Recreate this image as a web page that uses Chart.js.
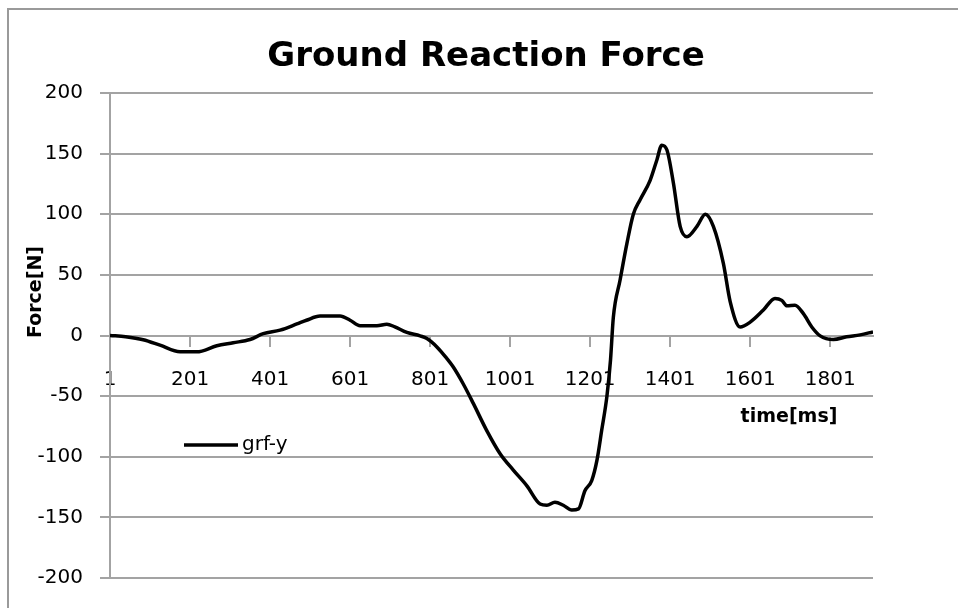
<!DOCTYPE html>
<html>
<head>
<meta charset="utf-8">
<title>Ground Reaction Force</title>
<script src="https://cdn.jsdelivr.net/npm/chart.js@4.4.1/dist/chart.umd.min.js"></script>
<style>
  html, body { margin: 0; padding: 0; background: #fff; }
  canvas { display: block; }
</style>
</head>
<body>
<canvas id="grfChart" width="958" height="608"></canvas>
<script>
const timeMs = [
    1, 40, 84, 126, 176, 218, 268, 309, 351, 384, 426, 468, 492, 526, 576,
    601, 626, 668, 693, 713, 743, 776, 793, 818, 843, 859, 884, 909, 942, 976,
    1009, 1043, 1076, 1093, 1113, 1134, 1155, 1172, 1188, 1205, 1218, 1230,
    1243, 1252, 1259, 1276, 1293, 1309, 1326, 1351, 1368, 1380, 1393, 1409,
    1426, 1443, 1468, 1489, 1509, 1534, 1551, 1576, 1601, 1634, 1663, 1680,
    1693, 1713, 1734, 1755, 1776, 1809, 1842, 1876, 1908
];
const forceN = [
    0, -1, -3.5, -8, -13.5, -13.5, -8.5, -6, -3.3, 1.5, 4.4, 9.5, 12.6, 16, 16,
    12.6, 8, 8, 9.3, 7.1, 2.5, -0.3, -2.5, -9.4, -19, -26, -40, -56, -78, -97.5,
    -111, -124, -139, -140, -137.5, -140, -144, -143, -128, -119.6, -103, -78,
    -50, -20, 15, 46, 76, 100, 112, 128, 145, 157, 153, 126,
    90, 81.5, 90, 100, 90, 59.5, 28, 7, 11, 21, 30.6, 29,
    24.5, 25, 18, 7, -0.3, -3.3, -1.1, 0.5, 3
];
const xTickLabels = [1, 201, 401, 601, 801, 1001, 1201, 1401, 1601, 1801];
const yTickLabels = [-200, -150, -100, -50, 0, 50, 100, 150, 200];

const chartTitle = 'Ground Reaction Force';
const xTitle = 'time[ms]';
const yTitle = 'Force[N]';
const seriesName = 'grf-y';

const FONT = '"DejaVu Sans", "Liberation Sans", sans-serif';
const GRID = '#a3a3a3';

// bordure, titre, titres d'axes et légende façon Excel
const excelDecor = {
    id: 'excelDecor',
    beforeDraw(chart) {
        const ctx = chart.ctx;
        ctx.save();
        ctx.fillStyle = '#fff';
        ctx.fillRect(0, 0, chart.width, chart.height);
        ctx.strokeStyle = '#9a9a9a';
        ctx.lineWidth = 2;
        ctx.strokeRect(8, 9, chart.width + 40, chart.height + 40);
        ctx.restore();
    },
    afterDraw(chart) {
        const ctx = chart.ctx;
        const ds = chart.data.datasets[0];
        ctx.save();
        ctx.fillStyle = '#000';

        // titre
        ctx.font = 'bold 34px ' + FONT;
        ctx.textAlign = 'center';
        ctx.textBaseline = 'alphabetic';
        ctx.fillText(chartTitle, 486, 66);

        // titre axe x (dans la zone de tracé)
        ctx.font = 'bold 19px ' + FONT;
        ctx.textBaseline = 'middle';
        ctx.fillText(xTitle, 789, 417);

        // titre axe y (vertical)
        ctx.save();
        ctx.translate(36, 292);
        ctx.rotate(-Math.PI / 2);
        ctx.fillText(yTitle, 0, 0);
        ctx.restore();

        // légende
        ctx.strokeStyle = ds.borderColor;
        ctx.lineWidth = ds.borderWidth;
        ctx.beginPath();
        ctx.moveTo(184, 445);
        ctx.lineTo(238, 445);
        ctx.stroke();
        ctx.font = '20px ' + FONT;
        ctx.textAlign = 'left';
        ctx.fillText(ds.label, 242, 445);

        ctx.restore();
    }
};

new Chart(document.getElementById('grfChart'), {
    type: 'line',
    data: {
        datasets: [{
            label: seriesName,
            data: timeMs.map((t, i) => ({ x: t, y: forceN[i] })),
            borderColor: '#000',
            borderWidth: 3.5,
            pointRadius: 0,
            cubicInterpolationMode: 'monotone',
            fill: false
        }]
    },
    options: {
        responsive: false,
        animation: false,
        layout: {
            padding: { top: 93, right: 85, bottom: 30, left: 0 }
        },
        plugins: {
            legend: { display: false },
            title: { display: false },
            tooltip: { enabled: false }
        },
        scales: {
            x: {
                type: 'linear',
                position: { y: 0 },
                min: 1,
                max: 1908,
                afterBuildTicks: (scale) => {
                    scale.ticks = xTickLabels.map(v => ({ value: v }));
                },
                ticks: {
                    autoSkip: false,
                    maxRotation: 0,
                    padding: 22,
                    color: '#000',
                    font: { family: FONT, size: 20 },
                    callback: (value) => String(value)
                },
                grid: {
                    drawOnChartArea: false,
                    drawTicks: true,
                    tickLength: 10,
                    color: GRID,
                    lineWidth: 2
                },
                border: { color: GRID, width: 2 }
            },
            y: {
                min: yTickLabels[0],
                max: yTickLabels[yTickLabels.length - 1],
                afterBuildTicks: (scale) => {
                    scale.ticks = yTickLabels.map(v => ({ value: v }));
                },
                afterFit: (scale) => {
                    scale.width = 110;
                },
                ticks: {
                    padding: 17,
                    color: '#000',
                    font: { family: FONT, size: 20 },
                    callback: (value) => String(value)
                },
                grid: {
                    drawTicks: true,
                    tickLength: 10,
                    color: GRID,
                    lineWidth: 2
                },
                border: { color: GRID, width: 2 }
            }
        }
    },
    plugins: [excelDecor]
});
</script>
</body>
</html>
